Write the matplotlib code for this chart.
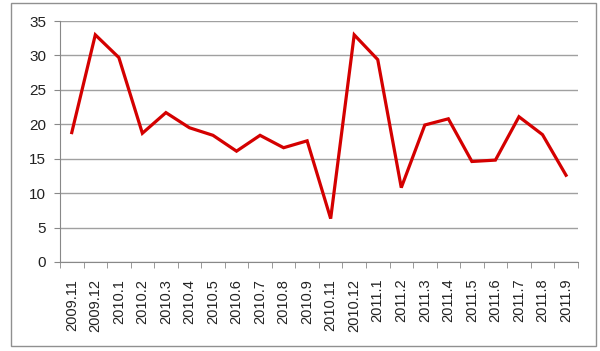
import matplotlib
matplotlib.use("Agg")
import matplotlib.pyplot as plt
from matplotlib.patches import Rectangle
import numpy as np

plt.rcParams['font.family'] = ['Liberation Sans', 'DejaVu Sans']

months = ["2009.11", "2009.12", "2010.1", "2010.2", "2010.3", "2010.4", "2010.5",
          "2010.6", "2010.7", "2010.8", "2010.9", "2010.11", "2010.12", "2011.1",
          "2011.2", "2011.3", "2011.4", "2011.5", "2011.6", "2011.7", "2011.8", "2011.9"]
values = [18.8, 33.0, 29.7, 18.7, 21.7, 19.5, 18.4, 16.1, 18.4, 16.6, 17.6,
          6.3, 33.0, 29.4, 10.8, 19.9, 20.8, 14.6, 14.8, 21.1, 18.5, 12.6]

fig = plt.figure(figsize=(6, 3.51), dpi=100)
ax = fig.add_axes([0.1, 0.2536, 0.863, 0.6864])

x = np.arange(len(months))
ax.plot(x, values, color="#d40000", linewidth=2.3, solid_joinstyle="miter")

ax.set_xlim(-0.5, len(months) - 0.5)
ax.set_ylim(0, 35)
ax.set_yticks(range(0, 36, 5))
ax.tick_params(axis="y", labelsize=11, length=4, color="#888888", colors="#222222", pad=6)

ax.set_xticks(x)
ax.set_xticklabels(months, rotation=90, fontsize=10.5, color="#222222")
ax.tick_params(axis="x", length=0, pad=12)
ax.set_xticks(np.arange(-0.5, len(months)), minor=True)
ax.tick_params(axis="x", which="minor", length=4, color="#888888")

ax.grid(axis="y", color="#a0a0a0", linewidth=1)
ax.set_axisbelow(True)
for s in ["top", "right"]:
    ax.spines[s].set_visible(False)
for s in ["left", "bottom"]:
    ax.spines[s].set_color("#888888")

fig.patches.append(Rectangle((11 / 600, 1 - 346 / 351), 585 / 600, 343 / 351,
                             transform=fig.transFigure, fill=False,
                             edgecolor="#909090", linewidth=1))

fig.savefig("out.png", dpi=100)
